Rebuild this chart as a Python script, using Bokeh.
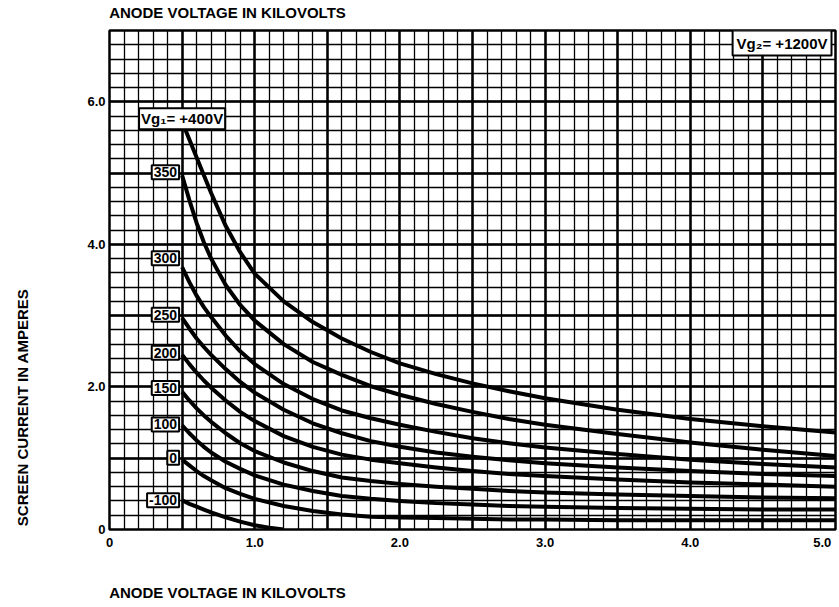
import math
from bokeh.plotting import figure
from bokeh.models import (Range1d, FixedTicker, SingleIntervalTicker, Label,
                          LinearAxis, ColumnDataSource)
from bokeh.embed import file_html
from bokeh.resources import INLINE

# ---------------- data ----------------
anode_kv = [0.5, 0.55, 0.6, 0.65, 0.7, 0.8, 0.9, 1.0, 1.2, 1.4, 1.6, 1.8, 2.0,
            2.25, 2.5, 2.75, 3.0, 3.5, 4.0, 4.5, 5.0]
ig2_400 = [5.72, 5.47, 5.22, 4.97, 4.72, 4.26, 3.89, 3.59, 3.20, 2.91, 2.68, 2.49, 2.33,
           2.18, 2.05, 1.94, 1.84, 1.68, 1.55, 1.45, 1.36]
ig2_350 = [4.97, 4.62, 4.30, 4.03, 3.80, 3.43, 3.15, 2.93, 2.60, 2.35, 2.17, 2.01, 1.89,
           1.76, 1.65, 1.55, 1.47, 1.34, 1.22, 1.12, 1.03]
ig2_300 = [3.68, 3.47, 3.28, 3.12, 2.98, 2.72, 2.50, 2.32, 2.04, 1.83, 1.67, 1.56, 1.47,
           1.37, 1.28, 1.21, 1.15, 1.06, 0.98, 0.92, 0.87]
ig2_250 = [2.97, 2.82, 2.68, 2.56, 2.45, 2.25, 2.07, 1.92, 1.68, 1.49, 1.35, 1.24, 1.16,
           1.08, 1.02, 0.97, 0.93, 0.87, 0.82, 0.78, 0.75]
ig2_200 = [2.45, 2.32, 2.20, 2.09, 1.99, 1.81, 1.65, 1.52, 1.31, 1.16, 1.05, 0.98, 0.93,
           0.87, 0.82, 0.78, 0.75, 0.70, 0.66, 0.63, 0.60]
ig2_150 = [1.93, 1.81, 1.70, 1.60, 1.51, 1.35, 1.21, 1.10, 0.94, 0.82, 0.73, 0.68, 0.64,
           0.60, 0.57, 0.54, 0.52, 0.49, 0.47, 0.45, 0.44]
ig2_100 = [1.46, 1.35, 1.25, 1.16, 1.08, 0.95, 0.85, 0.76, 0.63, 0.54, 0.47, 0.43, 0.40,
           0.37, 0.35, 0.33, 0.32, 0.30, 0.29, 0.28, 0.28]
ig2_0 = [0.98, 0.90, 0.82, 0.75, 0.69, 0.58, 0.50, 0.43, 0.33, 0.26, 0.21, 0.18, 0.17,
         0.16, 0.15, 0.14, 0.14, 0.13, 0.13, 0.13, 0.13]
anode_kv_m100 = [0.5, 0.55, 0.6, 0.65, 0.7, 0.8, 0.9, 1.0, 1.1, 1.2]
ig2_m100 = [0.41, 0.36, 0.32, 0.28, 0.24, 0.17, 0.11, 0.06, 0.025, 0.0]

curve_labels = ["Vg\u2081= +400V", "350", "300", "250", "200", "150", "100", "0", "-100"]
screen_label = "Vg\u2082= +1200V"

x_tick_values = [0, 1, 2, 3, 4, 5]
x_tick_labels = ["0", "1.0", "2.0", "3.0", "4.0", "5.0"]
y_tick_values = [0, 2, 4, 6]
y_tick_labels = ["0", "2.0", "4.0", "6.0"]

x_title = "ANODE VOLTAGE IN KILOVOLTS"
y_title = "SCREEN CURRENT IN AMPERES"

# ---------------- layout constants (title anchors, in axis units) ----------------
X_TITLE_AT = 0.8125   # anchor of the left-aligned x titles
Y_TITLE_AT = 1.125    # anchor of the y title

# ---------------- figure ----------------
FONT = "Liberation Sans"

p = figure(width=838, height=606, output_backend="svg", toolbar_location=None,
           x_range=Range1d(0, 5), y_range=Range1d(0, 7),
           min_border_left=109, min_border_right=3, min_border_top=28, min_border_bottom=77)
p.background_fill_color = "white"
p.border_fill_color = "white"
p.outline_line_color = "black"
p.outline_line_width = 2.5

# grid: major every 0.5 kV / 1 A, minor every 0.1 kV / 0.2 A
p.xgrid.ticker = SingleIntervalTicker(interval=0.5, num_minor_ticks=5)
p.ygrid.ticker = SingleIntervalTicker(interval=1.0, num_minor_ticks=5)
for g in (p.xgrid, p.ygrid):
    g.grid_line_color = "black"
    g.grid_line_width = 2.5
    g.grid_line_alpha = 1.0
    g.minor_grid_line_color = "black"
    g.minor_grid_line_width = 1.3
    g.minor_grid_line_alpha = 1.0

# axes
bottom_axis = p.below[0]
left_axis = p.left[0]

x_over = {v: l for v, l in zip(x_tick_values, x_tick_labels)}
x_over[x_tick_values[-1]] = x_tick_labels[-1] + "\u2007"  # keep last label inside canvas
bottom_axis.ticker = FixedTicker(ticks=x_tick_values)
bottom_axis.major_label_overrides = x_over
left_axis.ticker = FixedTicker(ticks=y_tick_values)
left_axis.major_label_overrides = {v: l for v, l in zip(y_tick_values, y_tick_labels)}

# title axes: one labelled tick each, so the titles sit outside the frame
top_title_axis = LinearAxis(ticker=FixedTicker(ticks=[X_TITLE_AT]),
                            major_label_overrides={X_TITLE_AT: x_title})
bottom_title_axis = LinearAxis(ticker=FixedTicker(ticks=[X_TITLE_AT]),
                               major_label_overrides={X_TITLE_AT: x_title})
left_title_axis = LinearAxis(ticker=FixedTicker(ticks=[Y_TITLE_AT]),
                             major_label_overrides={Y_TITLE_AT: y_title})
p.add_layout(top_title_axis, "above")
p.add_layout(bottom_title_axis, "below")
p.add_layout(left_title_axis, "left")


def style_axis(ax, size):
    ax.axis_line_color = None
    ax.major_tick_line_color = None
    ax.minor_tick_line_color = None
    ax.major_tick_out = 0
    ax.major_tick_in = 0
    ax.minor_tick_out = 0
    ax.minor_tick_in = 0
    ax.major_label_text_font = FONT
    ax.major_label_text_font_style = "bold"
    ax.major_label_text_font_size = size
    ax.major_label_text_color = "black"


style_axis(bottom_axis, "13px")
style_axis(left_axis, "13px")
style_axis(top_title_axis, "15px")
style_axis(bottom_title_axis, "15px")
style_axis(left_title_axis, "15px")
bottom_axis.major_label_standoff = 5
left_axis.major_label_standoff = 4
top_title_axis.major_label_standoff = 10
bottom_title_axis.major_label_standoff = 31
left_title_axis.major_label_standoff = 62
left_title_axis.major_label_orientation = math.pi / 2

# curves
curves = [ig2_400, ig2_350, ig2_300, ig2_250, ig2_200, ig2_150, ig2_100, ig2_0]
src = ColumnDataSource(dict(x=anode_kv, **{f"c{i}": c for i, c in enumerate(curves)}))
for i in range(len(curves)):
    p.line("x", f"c{i}", source=src, line_color="black", line_width=4, line_join="round")
src_m = ColumnDataSource(dict(x=anode_kv_m100, y=ig2_m100))
p.line("x", "y", source=src_m, line_color="black", line_width=4, line_join="round")

# curve labels (boxed), anchored at each curve's first point
starts = [(anode_kv[0], c[0]) for c in curves] + [(anode_kv_m100[0], ig2_m100[0])]
label_dy = [3, 3, 9, 3, 2, 4, 1, 2, 0]
for k, ((x0, y0), txt) in enumerate(zip(starts, curve_labels)):
    first = (k == 0)
    p.add_layout(Label(x=x0, y=y0, x_offset=(0 if first else -3), y_offset=label_dy[k],
                       text=txt, text_align=("center" if first else "right"),
                       text_baseline="middle", text_font=FONT, text_font_style="bold",
                       text_font_size=("15px" if first else "14px"), text_color="black",
                       background_fill_color="white", border_line_color="black",
                       border_line_width=2, padding=2))

# screen-voltage box, top right
p.add_layout(Label(x=5, y=7, x_offset=-4, y_offset=0, text=screen_label,
                   text_align="right", text_baseline="top", text_font=FONT,
                   text_font_style="bold", text_font_size="15px", text_color="black",
                   background_fill_color="white", border_line_color="black",
                   border_line_width=2, padding=4))

open("out.html", "w").write(file_html(p, INLINE))
